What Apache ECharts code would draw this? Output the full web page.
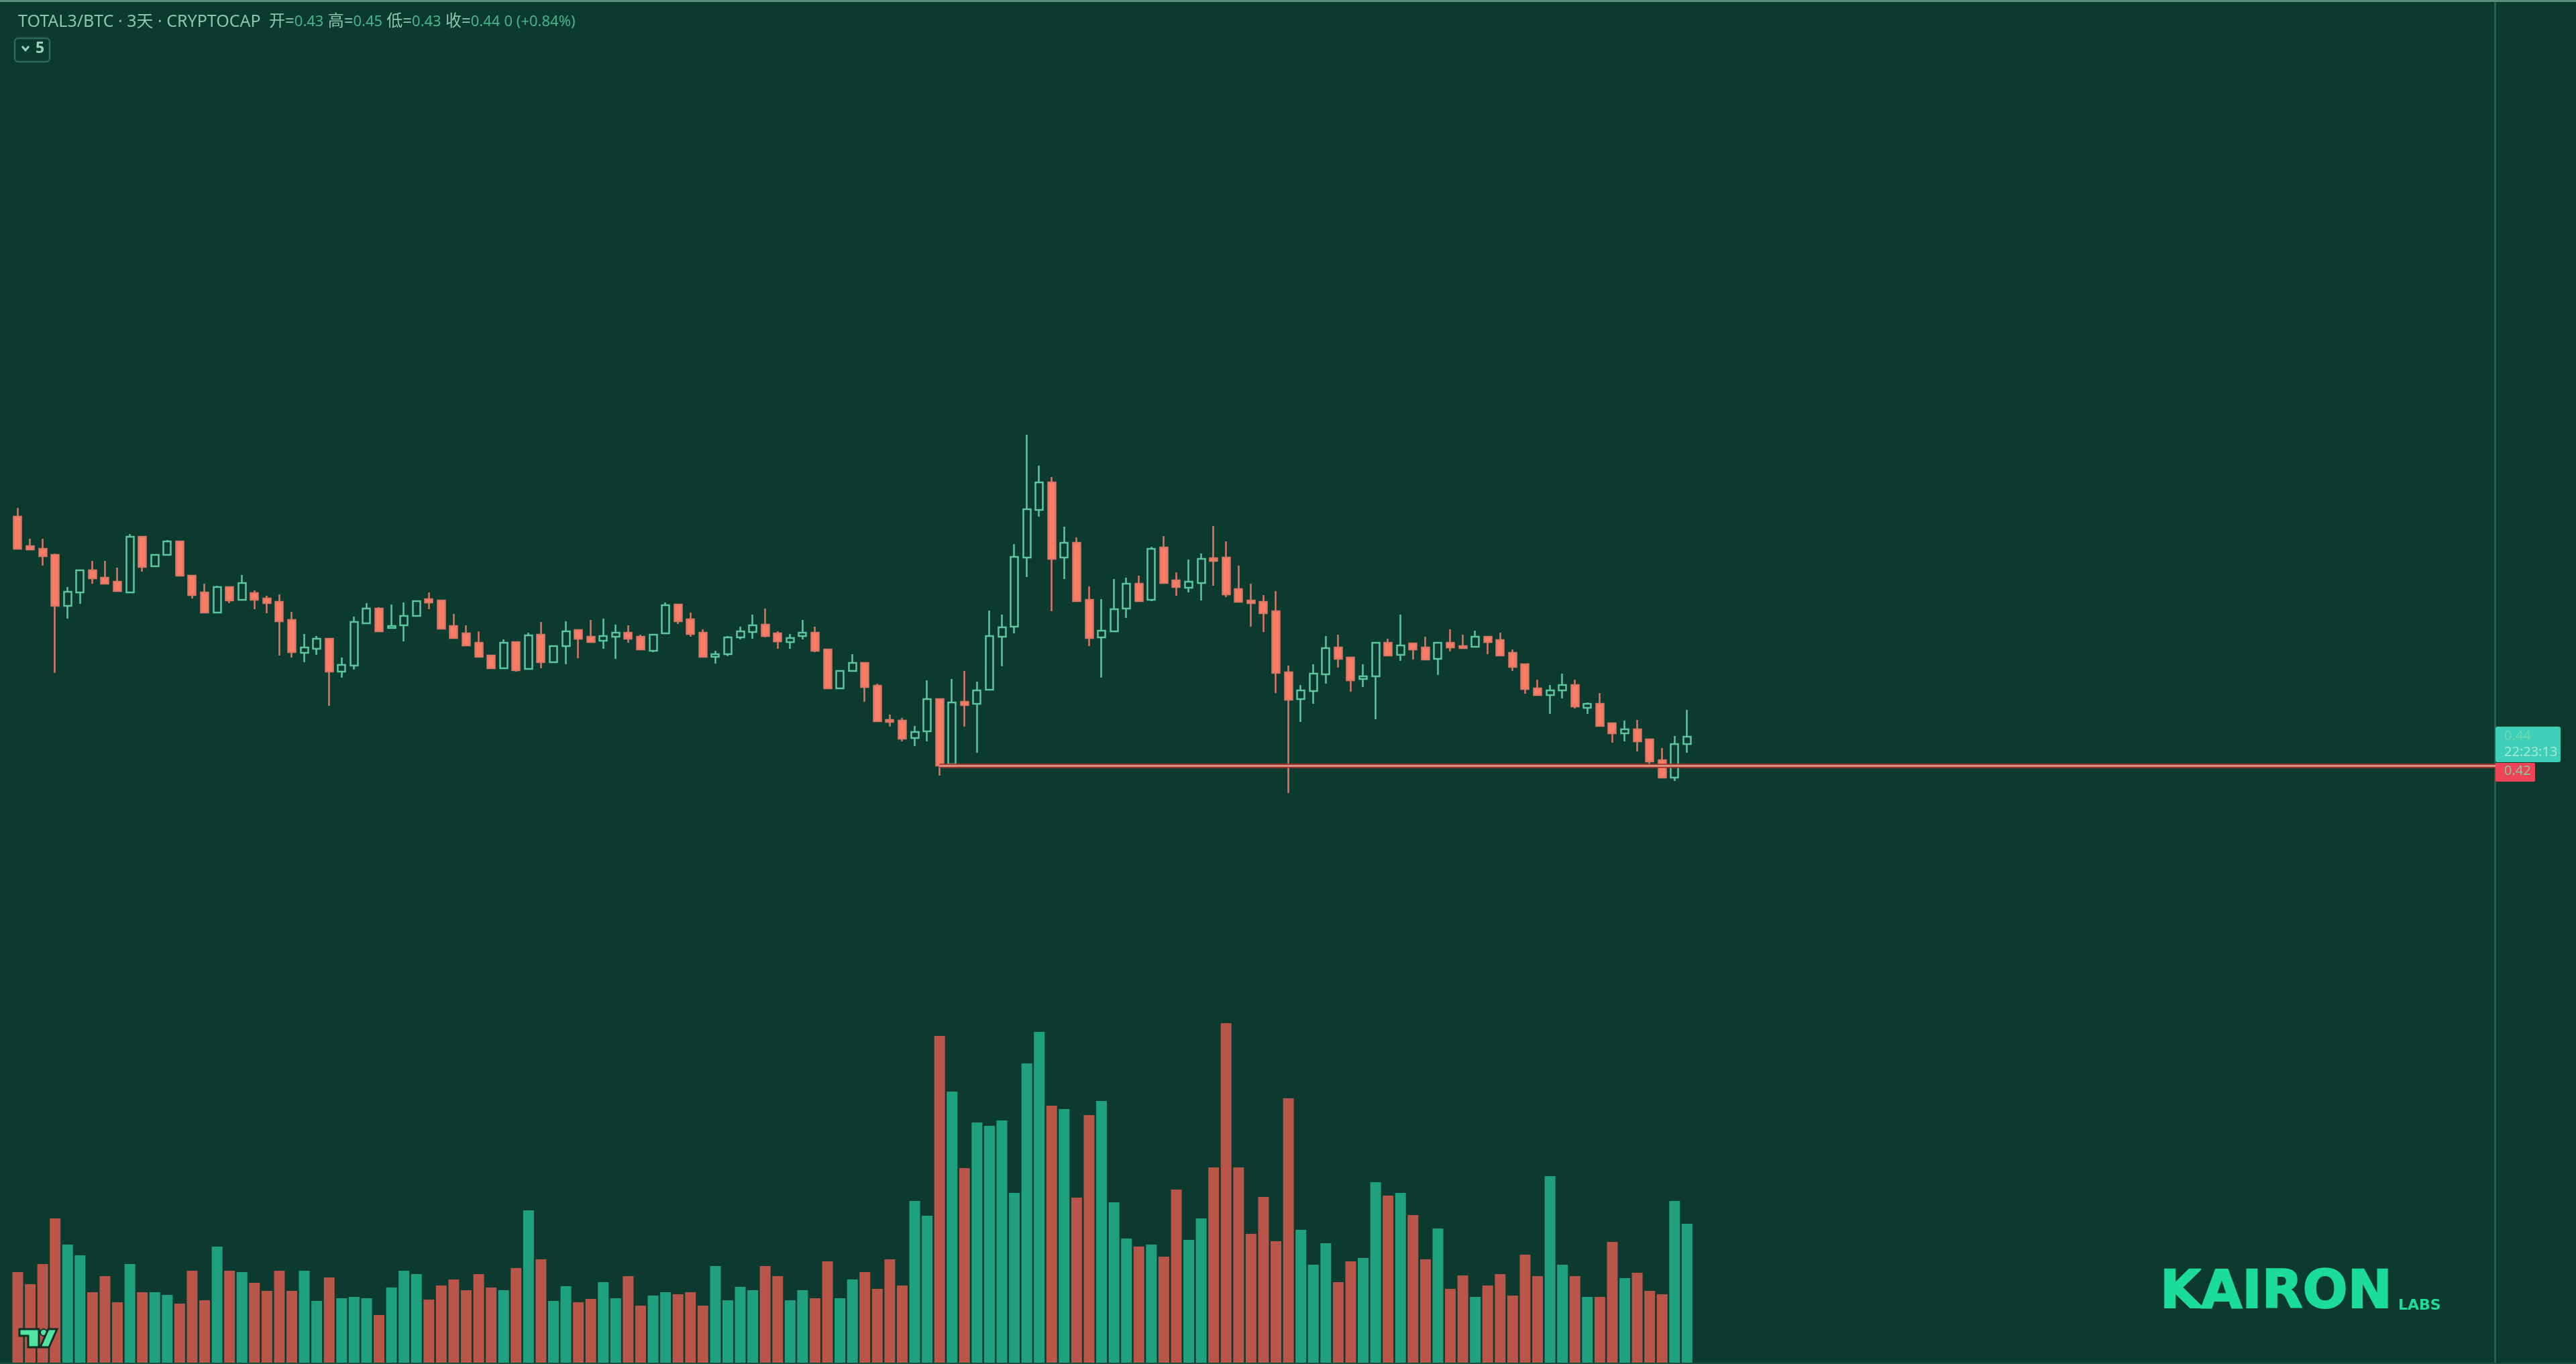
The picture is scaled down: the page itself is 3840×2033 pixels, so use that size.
<!DOCTYPE html>
<html>
<head>
<meta charset="utf-8">
<title>TOTAL3/BTC</title>
<style>
  html, body { margin: 0; height: 100%; background: #0d3a2e; }
  #chart { width: 100%; height: 100%; }
</style>
<script src="https://cdn.jsdelivr.net/npm/echarts@6/dist/echarts.min.js"></script>
</head>
<body>
<div id="chart"></div>
<script>
// candle values are kept in ticks of TICK
const TICK = 0.0005
const SUPPORT = 840

const opens = [
  1211,1167,1163,1154,1078,1098,1131,1120,1114,1098,
  1181,1137,1154,1174,1123,1098,1068,1106,1087,1097,
  1089,1084,1057,1008,1014,1029,980,989,1052,1074,
  1045,1049,1063,1088,1086,1048,1037,1023,1004,985,
  1024,984,1035,994,1018,1042,1032,1026,1032,1038,
  1032,1011,1037,1080,1058,1038,1002,1006,1031,1039,
  1050,1037,1024,1033,1038,1013,955,981,993,959,
  908,907,881,891,939,842,935,932,953,1032,
  1047,1150,1221,1262,1150,1172,1087,1031,1040,1074,
  1111,1087,1165,1116,1105,1112,1149,1150,1103,1086,
  1084,1070,979,939,951,976,1016,1001,969,973,
  1023,1005,1022,1016,999,1023,1018,1017,1032,1027,
  1008,991,955,945,952,960,926,932,903,888,
  894,879,848,822,872,
]
const closes = [
  1163,1162,1152,1078,1099,1131,1119,1111,1100,1181,
  1136,1154,1174,1123,1094,1068,1106,1086,1112,1087,
  1082,1055,1009,1016,1029,980,990,1054,1074,1040,
  1048,1063,1085,1083,1044,1030,1019,1002,985,1023,
  982,1034,994,1018,1040,1029,1024,1033,1038,1029,
  1013,1035,1079,1055,1036,1002,1006,1031,1040,1049,
  1033,1025,1030,1038,1011,955,981,993,957,906,
  905,880,890,939,840,934,930,952,1033,1046,
  1151,1222,1262,1148,1172,1085,1030,1041,1073,1111,
  1085,1163,1112,1106,1114,1148,1145,1095,1084,1082,
  1067,978,938,952,977,1015,999,967,973,1023,
  1004,1019,1013,998,1023,1016,1015,1032,1024,1004,
  987,954,945,952,960,928,932,899,888,894,
  876,846,822,872,883,
]
const lows = [
  1163,1162,1138,978,1059,1081,1111,1111,1100,1098,
  1129,1137,1153,1123,1089,1068,1068,1082,1087,1073,
  1067,1004,1001,994,1005,929,971,983,1052,1040,
  1045,1025,1063,1073,1044,1029,1018,1002,984,985,
  980,983,985,994,991,1000,1023,1014,999,1023,
  1012,1009,1037,1051,1032,1002,992,1003,1028,1029,
  1031,1014,1014,1028,1009,954,955,981,935,906,
  898,876,869,876,825,842,898,859,953,988,
  1037,1121,1211,1070,1118,1085,1018,971,1040,1060,
  1085,1085,1112,1093,1098,1086,1108,1091,1084,1047,
  1039,948,799,905,932,962,986,950,957,909,
  1004,996,998,998,975,1010,1015,1017,1006,1004,
  981,947,945,917,940,925,917,899,874,876,
  861,841,822,817,859,
]
const highs = [
  1224,1178,1178,1156,1106,1131,1145,1145,1135,1185,
  1182,1155,1176,1175,1124,1111,1108,1107,1124,1101,
  1093,1095,1069,1036,1033,1030,1001,1062,1082,1076,
  1080,1083,1086,1098,1087,1066,1049,1040,1005,1028,
  1025,1038,1054,1018,1055,1043,1057,1059,1050,1049,
  1035,1035,1083,1081,1068,1043,1011,1033,1047,1065,
  1074,1040,1036,1057,1047,1013,981,1006,993,962,
  916,911,899,967,939,969,981,965,1071,1065,
  1170,1333,1287,1270,1196,1180,1107,1088,1118,1120,
  1123,1166,1182,1128,1147,1156,1197,1174,1138,1111,
  1094,1100,989,960,991,1033,1035,1002,991,1023,
  1029,1065,1022,1032,1023,1043,1035,1041,1032,1038,
  1013,991,968,960,977,968,934,948,903,907,
  908,880,866,884,923,
]
const volumes = [
  137,119,149,217,178,162,107,131,92,149,
  107,107,103,90,139,95,175,139,137,121,
  109,139,109,139,94,129,98,100,98,73,
  114,139,134,96,117,126,110,134,114,110,
  143,229,156,94,116,92,97,122,98,131,
  87,102,107,104,107,87,146,95,115,110,
  146,131,95,110,98,153,98,126,137,112,
  156,117,243,221,489,406,292,360,355,363,
  255,448,495,385,380,248,371,392,241,187,
  175,178,160,260,185,217,293,508,293,194,
  249,183,396,200,148,180,122,153,158,271,
  251,255,222,156,202,112,132,100,117,134,
  102,163,131,280,148,131,100,100,182,128,
  136,109,104,243,209,
]
// the last 65 categories are the empty space to the right of the last candle
const categories = Array.from({ length: 200 }, (_, i) => String(i))

const legendName = 'TOTAL3/BTC · 3天 · CRYPTOCAP'
const legendValues = ['0.43', '0.45', '0.43', '0.44']
const legendChange = '0 (+0.84%)'

const BG = '#0d3a2e'
const UP = '#5cc5a2'
const DOWN = '#fb7d66'
const WICK_DOWN = '#dd7866'
const BAR_UP = '#1fa180'
const BAR_DOWN = '#b95549'
const FONT = '"Noto Sans", "Noto Sans CJK SC", sans-serif'
const LOGO = '#1cdc9c'

const price = t => +(t * TICK).toFixed(4)

const chart = echarts.init(document.getElementById('chart'))

const candleData = opens.map((o, i) => [price(o), price(closes[i]), price(lows[i]), price(highs[i])])
const volumeData = volumes.map((v, i) => ({
  value: v,
  itemStyle: { color: closes[i] > opens[i] ? BAR_UP : BAR_DOWN },
}))

const gridLeft = 17.2
const gridWidth = 3714

const legendRich = {
  name: { fill: '#8fc4ae', font: `25px ${FONT}` },
  key: { fill: '#8fc4ae', font: `24px ${FONT}` },
  val: { fill: '#46b48f', font: `22px ${FONT}` },
}
const legendLabels = ['开', '高', '低', '收']
const legendText = `{name|${legendName}}  ` +
  legendLabels.map((k, i) => `{key|${k}=}{val|${legendValues[i]}}`).join(' ') +
  ` {val|${legendChange}}`

chart.setOption({
  animation: false,
  backgroundColor: BG,
  grid: [
    { left: gridLeft, width: gridWidth, top: 0, height: 2033 },
    { left: gridLeft, width: gridWidth, top: 1500, height: 533 },
  ],
  xAxis: [
    { type: 'category', gridIndex: 0, data: categories, show: false },
    { type: 'category', gridIndex: 1, data: categories, show: false },
  ],
  yAxis: [
    {
      type: 'value', gridIndex: 0, min: -0.026, max: 0.9905, position: 'right', offset: -12,
      axisLine: { show: true, onZero: false, lineStyle: { color: '#2f6755', width: 2.5 } },
      axisTick: { show: false }, axisLabel: { show: false }, splitLine: { show: false },
    },
    { type: 'value', gridIndex: 1, min: 0, max: 533, show: false, splitLine: { show: false } },
  ],
  series: [
    {
      type: 'bar', name: 'Volume', xAxisIndex: 1, yAxisIndex: 1,
      data: volumeData, barWidth: 16, silent: true,
    },
    {
      type: 'candlestick', name: 'TOTAL3/BTC', xAxisIndex: 0, yAxisIndex: 0,
      data: candleData, barWidth: 11.5, silent: true, z: 3,
      itemStyle: { color: 'transparent', color0: DOWN, borderColor: UP, borderColor0: WICK_DOWN, borderWidth: 2.5 },
      markLine: {
        silent: true, symbol: 'none', label: { show: false }, animation: false,
        data: [
          [{ coord: ['74', price(SUPPORT)], lineStyle: { color: '#a93327', width: 6.5, type: 'solid' } }, { coord: ['199', price(SUPPORT)] }],
          [{ coord: ['74', price(SUPPORT)], lineStyle: { color: '#e0a090', width: 2.5, type: 'solid' } }, { coord: ['199', price(SUPPORT)] }],
        ],
      },
    },
  ],
  graphic: [
    { type: 'rect', z: 10, shape: { x: 0, y: 0, width: 3840, height: 3 }, style: { fill: '#5b8f7c' } },
    { type: 'rect', z: 10, shape: { x: 0, y: 2031, width: 3840, height: 2 }, style: { fill: '#17503f' } },

    // top-left legend
    { type: 'text', z: 10, x: 27, y: 20, style: { text: legendText, rich: legendRich, font: `24px ${FONT}` } },
    { type: 'rect', z: 10, shape: { x: 22, y: 57, width: 52, height: 35, r: 5 }, style: { fill: 'transparent', stroke: '#2d6a58', lineWidth: 2.5 } },
    { type: 'polyline', z: 10, shape: { points: [[33, 69], [38, 75], [43, 69]] }, style: { stroke: '#9ad3bd', lineWidth: 3, fill: 'none' } },
    { type: 'text', z: 10, x: 53, y: 61, style: { text: '5', fill: '#9ad3bd', font: `bold 23px ${FONT}` } },

    // last price and countdown tags on the price scale
    { type: 'rect', z: 10, shape: { x: 3720, y: 1083, width: 97, height: 53, r: 3 }, style: { fill: '#3dcfb8' } },
    { type: 'text', z: 10, x: 3733, y: 1087, style: { text: '0.44', fill: '#72d8ae', font: `20px ${FONT}` } },
    { type: 'text', z: 10, x: 3733, y: 1111, style: { text: '22:23:13', fill: '#a9e9d2', font: `20px ${FONT}` } },
    { type: 'rect', z: 10, shape: { x: 3720, y: 1137, width: 59, height: 28, r: 2 }, style: { fill: '#ee4455' } },
    { type: 'text', z: 10, x: 3733, y: 1139, style: { text: '0.42', fill: '#88c8a0', font: `20px ${FONT}` } },

    // TradingView mark
    { type: 'polygon', z: 10, shape: { points: [[29, 1981], [58, 1981], [58, 2008], [42, 2008], [42, 1991], [29, 1991]] }, style: { fill: '#50e6a2', stroke: '#0d2f26', lineWidth: 3 } },
    { type: 'circle', z: 10, shape: { cx: 65, cy: 1986, r: 5 }, style: { fill: '#50e6a2', stroke: '#0d2f26', lineWidth: 2 } },
    { type: 'polygon', z: 10, shape: { points: [[72, 1981], [85, 1981], [73, 2008], [60, 2008]] }, style: { fill: '#50e6a2', stroke: '#0d2f26', lineWidth: 3 } },

    // watermark
    { type: 'text', z: 10, x: 3220, y: 1889, style: { text: 'KAIRON', fill: LOGO, stroke: LOGO, lineWidth: 2, font: 'bold 79px "DejaVu Sans"' } },
    { type: 'text', z: 10, x: 3575, y: 1935, style: { text: 'LABS', fill: LOGO, font: 'bold 22px "DejaVu Sans"' } },
  ],
})

window.addEventListener('resize', () => chart.resize())
</script>
</body>
</html>
